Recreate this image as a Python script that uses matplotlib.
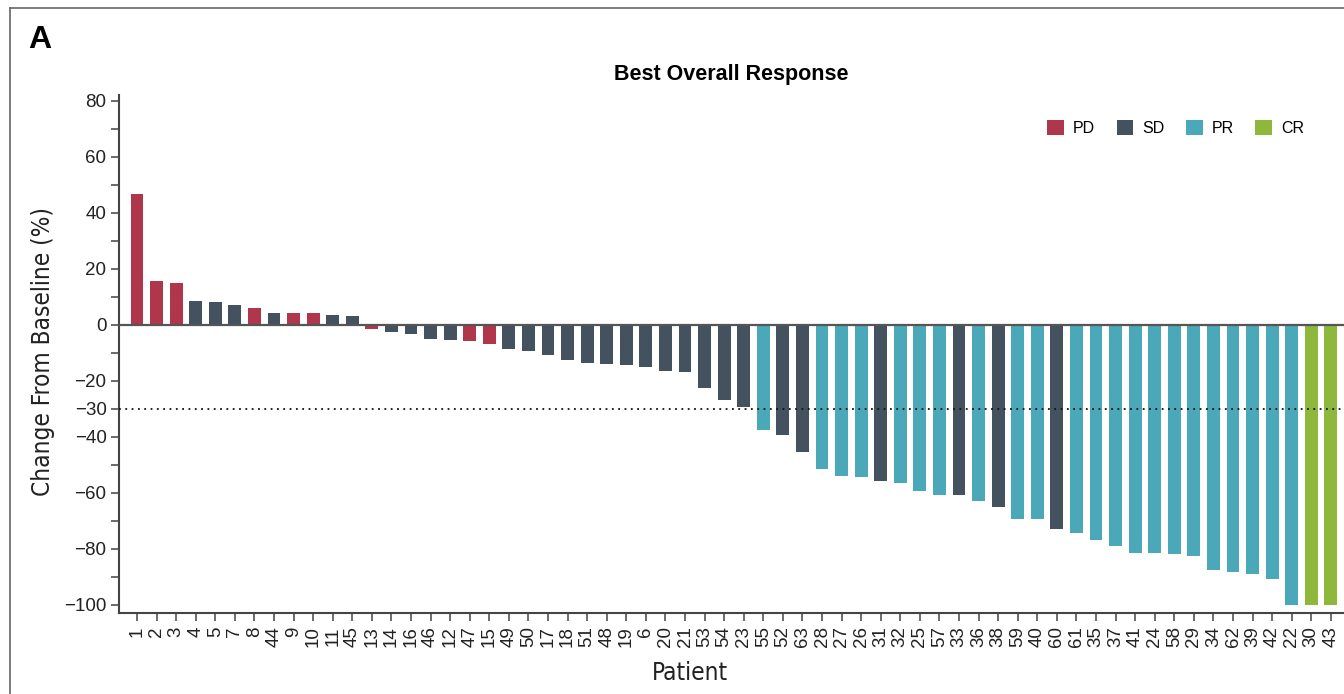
import matplotlib.pyplot as plt
from matplotlib import font_manager
from matplotlib.font_manager import FontProperties
from matplotlib.lines import Line2D
from matplotlib.patches import Patch

patients = ["1", "2", "3", "4", "5", "7", "8", "44", "9", "10", "11", "45",
            "13", "14", "16", "46", "12", "47", "15", "49", "50", "17", "18", "51",
            "48", "19", "6", "20", "21", "53", "54", "23", "55", "52", "63", "28",
            "27", "26", "31", "32", "25", "57", "33", "36", "38", "59", "40", "60",
            "61", "35", "37", "41", "24", "58", "29", "34", "62", "39", "42", "22",
            "30", "43"]
change = [46.8, 15.4, 15.0, 8.5, 8.2, 7.1, 6.0, 4.0, 4.0, 4.0, 3.5, 3.2,
          -1.4, -2.5, -3.5, -5.0, -5.4, -5.8, -7.1, -8.6, -9.3, -10.7, -12.5, -13.6,
          -13.9, -14.6, -15.0, -16.4, -17.1, -22.5, -26.8, -29.3, -37.5, -39.3, -45.4, -51.4,
          -53.9, -54.3, -55.7, -56.4, -59.3, -60.7, -61.0, -62.9, -65.0, -69.3, -69.6, -72.9,
          -74.6, -76.8, -78.9, -81.4, -81.4, -81.8, -82.5, -87.5, -88.2, -88.9, -90.7, -100.0,
          -100.0, -100.0]
response = ["PD", "PD", "PD", "SD", "SD", "SD", "PD", "SD", "PD", "PD", "SD", "SD",
            "PD", "SD", "SD", "SD", "SD", "PD", "PD", "SD", "SD", "SD", "SD", "SD",
            "SD", "SD", "SD", "SD", "SD", "SD", "SD", "SD", "PR", "SD", "SD", "PR",
            "PR", "PR", "SD", "PR", "PR", "PR", "SD", "PR", "SD", "PR", "PR", "SD",
            "PR", "PR", "PR", "PR", "PR", "PR", "PR", "PR", "PR", "PR", "PR", "PR",
            "CR", "CR"]
categories = ["PD", "SD", "PR", "CR"]
colors = {"PD": "#B0374B", "SD": "#44515F", "PR": "#4BA8B8", "CR": "#8DB83B"}

ytick_major = list(range(-100, 81, 10))
ytick_labelled = [80, 60, 40, 20, 0, -20, -30, -40, -60, -80, -100]

# narrow face for the axis titles, if one is on the system
narrow_path = None
for key in ["LiberationSansNarrow-Regular", "DejaVuSansCondensed.", "Condensed-Regular", "Narrow"]:
    hits = [f.fname for f in font_manager.fontManager.ttflist
            if key in f.fname.split("/")[-1] and "Bold" not in f.fname and "Oblique" not in f.fname
            and "Italic" not in f.fname]
    if hits:
        narrow_path = hits[0]
        break
if narrow_path:
    axis_font = FontProperties(fname=narrow_path, size=17.5)
else:
    axis_font = FontProperties(family="Liberation Sans", size=16)

fig = plt.figure(figsize=(13.44, 6.94), dpi=100)
ax = fig.add_axes([119 / 1344, 1 - 613 / 694, 1 - 119 / 1344, (613 - 95) / 694])

x = list(range(len(patients)))
ax.bar(x, change, width=0.66, color=[colors[r] for r in response], zorder=2)
ax.axhline(0, color="#555555", lw=1.6, zorder=3)
ax.axhline(-30, color="#111111", lw=1.3, ls=(0, (1, 2.5)), zorder=4)

ax.set_xlim(-0.92, 61.67)
ax.set_ylim(-103, 82)

ax.set_yticks(ytick_major)
ax.set_yticklabels([("\u2212" + str(-v) if v < 0 else str(v)) if v in ytick_labelled else ""
                    for v in ytick_major])
ax.set_xticks(x)
ax.set_xticklabels(patients, rotation=90)
ax.tick_params(axis="both", direction="out", length=5.5, width=1.1, color="#444444",
               labelsize=13.5, labelcolor="#222222")
ax.tick_params(axis="x", pad=4)

for side in ["top", "right"]:
    ax.spines[side].set_visible(False)
for side in ["left", "bottom"]:
    ax.spines[side].set_color("#444444")
    ax.spines[side].set_linewidth(1.5)

for lbl in ax.get_xticklabels() + ax.get_yticklabels():
    lbl.set_family("Liberation Sans")

ax.set_ylabel("Change From Baseline (%)", fontproperties=axis_font, color="#222222")
ax.set_xlabel("Patient", fontproperties=axis_font, color="#222222")
ax.yaxis.set_label_coords(-0.052, 0.504)
ax.xaxis.set_label_coords(0.466, -0.092)
ax.set_title("Best Overall Response", family="Liberation Sans", fontweight="bold",
             fontsize=15.5, pad=11)

handles = [Patch(facecolor=colors[c], label=c) for c in categories]
fig.legend(handles=handles, loc="center left", bbox_to_anchor=(1033 / 1344, 1 - 128 / 694),
           ncol=4, frameon=False, handlelength=1.05, handleheight=1.05, handletextpad=0.55,
           columnspacing=1.35, prop={"family": "Liberation Sans", "size": 11.5})

fig.text(28 / 1344, 1 - 40 / 694, "A", family="Liberation Sans", fontweight="bold",
         fontsize=23, va="center", ha="left")

fig.add_artist(Line2D([10 / 1344, 1.0], [1 - 8 / 694, 1 - 8 / 694], color="#666666", lw=1.2))
fig.add_artist(Line2D([10 / 1344, 10 / 1344], [0.0, 1 - 8 / 694], color="#666666", lw=1.2))

fig.savefig("out.png", dpi=100)
